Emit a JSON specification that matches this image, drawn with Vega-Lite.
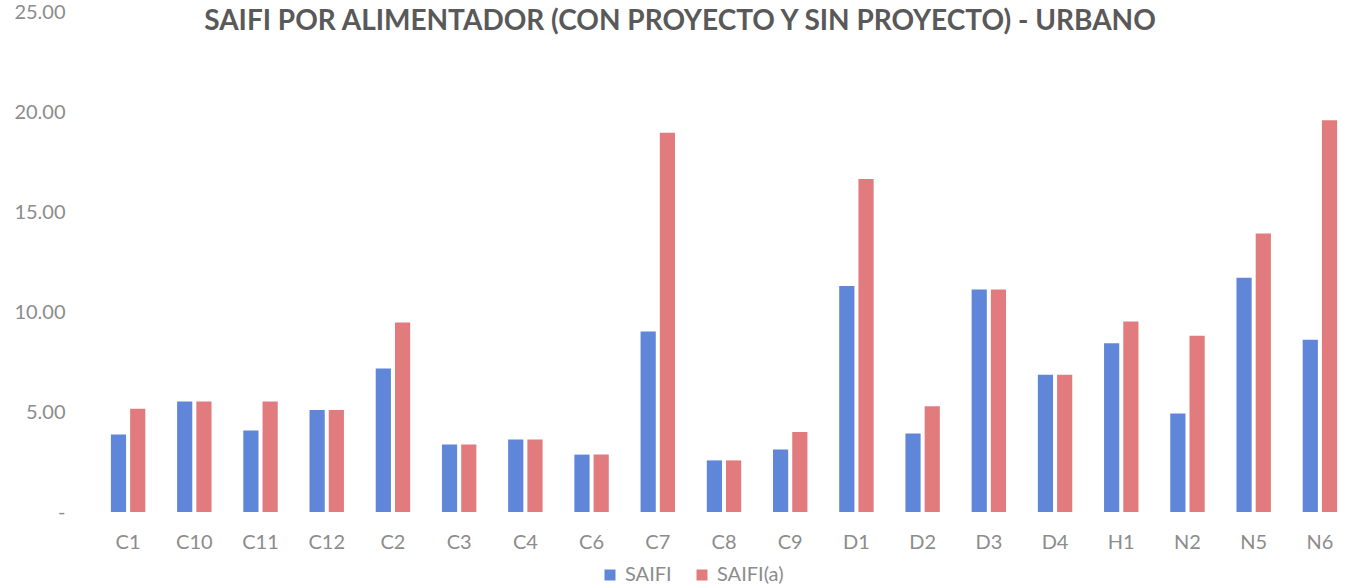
{
  "$schema": "https://vega.github.io/schema/vega-lite/v6.json",
  "width": 1258,
  "height": 500,
  "autosize": {"type": "none"},
  "padding": {"top": 12, "left": 95, "right": 0, "bottom": 75},
  "background": "white",
  "title": {
    "text": "SAIFI POR ALIMENTADOR (CON PROYECTO Y SIN PROYECTO) - URBANO",
    "font": "Lato",
    "fontSize": 28,
    "fontWeight": "bold",
    "color": "#595959",
    "anchor": "middle",
    "baseline": "alphabetic",
    "offset": 0,
    "dy": 56,
    "dx": -44
  },
  "config": {
    "view": {"stroke": null},
    "font": "Lato"
  },
  "data": {
    "values": [
      {"alimentador": "C1", "serie": "SAIFI", "valor": 3.88},
      {"alimentador": "C1", "serie": "SAIFI(a)", "valor": 5.16},
      {"alimentador": "C10", "serie": "SAIFI", "valor": 5.53},
      {"alimentador": "C10", "serie": "SAIFI(a)", "valor": 5.53},
      {"alimentador": "C11", "serie": "SAIFI", "valor": 4.08},
      {"alimentador": "C11", "serie": "SAIFI(a)", "valor": 5.53},
      {"alimentador": "C12", "serie": "SAIFI", "valor": 5.1},
      {"alimentador": "C12", "serie": "SAIFI(a)", "valor": 5.1},
      {"alimentador": "C2", "serie": "SAIFI", "valor": 7.17},
      {"alimentador": "C2", "serie": "SAIFI(a)", "valor": 9.47},
      {"alimentador": "C3", "serie": "SAIFI", "valor": 3.37},
      {"alimentador": "C3", "serie": "SAIFI(a)", "valor": 3.37},
      {"alimentador": "C4", "serie": "SAIFI", "valor": 3.63},
      {"alimentador": "C4", "serie": "SAIFI(a)", "valor": 3.63},
      {"alimentador": "C6", "serie": "SAIFI", "valor": 2.87},
      {"alimentador": "C6", "serie": "SAIFI(a)", "valor": 2.87},
      {"alimentador": "C7", "serie": "SAIFI", "valor": 9.03},
      {"alimentador": "C7", "serie": "SAIFI(a)", "valor": 18.96},
      {"alimentador": "C8", "serie": "SAIFI", "valor": 2.58},
      {"alimentador": "C8", "serie": "SAIFI(a)", "valor": 2.58},
      {"alimentador": "C9", "serie": "SAIFI", "valor": 3.13},
      {"alimentador": "C9", "serie": "SAIFI(a)", "valor": 4.0},
      {"alimentador": "D1", "serie": "SAIFI", "valor": 11.3},
      {"alimentador": "D1", "serie": "SAIFI(a)", "valor": 16.65},
      {"alimentador": "D2", "serie": "SAIFI", "valor": 3.93},
      {"alimentador": "D2", "serie": "SAIFI(a)", "valor": 5.29},
      {"alimentador": "D3", "serie": "SAIFI", "valor": 11.13},
      {"alimentador": "D3", "serie": "SAIFI(a)", "valor": 11.13},
      {"alimentador": "D4", "serie": "SAIFI", "valor": 6.86},
      {"alimentador": "D4", "serie": "SAIFI(a)", "valor": 6.86},
      {"alimentador": "H1", "serie": "SAIFI", "valor": 8.44},
      {"alimentador": "H1", "serie": "SAIFI(a)", "valor": 9.53},
      {"alimentador": "N2", "serie": "SAIFI", "valor": 4.93},
      {"alimentador": "N2", "serie": "SAIFI(a)", "valor": 8.81},
      {"alimentador": "N5", "serie": "SAIFI", "valor": 11.71},
      {"alimentador": "N5", "serie": "SAIFI(a)", "valor": 13.93},
      {"alimentador": "N6", "serie": "SAIFI", "valor": 8.61},
      {"alimentador": "N6", "serie": "SAIFI(a)", "valor": 19.59}
    ]
  },
  "mark": {"type": "bar"},
  "encoding": {
    "x": {
      "field": "alimentador",
      "type": "nominal",
      "sort": null,
      "scale": {"paddingInner": 0.48, "paddingOuter": 0.24},
      "axis": {
        "title": null,
        "labelAngle": 0,
        "domain": false,
        "ticks": false,
        "labelPadding": 20,
        "labelFontSize": 20,
        "labelColor": "#8c8c8c",
        "labelFont": "Lato"
      }
    },
    "xOffset": {
      "field": "serie",
      "type": "nominal",
      "scale": {"paddingInner": 0.21, "paddingOuter": 0}
    },
    "y": {
      "field": "valor",
      "type": "quantitative",
      "scale": {"domain": [0, 25], "nice": false},
      "axis": {
        "title": null,
        "values": [0, 5, 10, 15, 20, 25],
        "labelExpr": "datum.value == 0 ? '-' : format(datum.value, '.2f')",
        "grid": false,
        "domain": false,
        "ticks": false,
        "labelPadding": 30,
        "labelFontSize": 20,
        "labelColor": "#8c8c8c",
        "labelFont": "Lato"
      }
    },
    "color": {
      "field": "serie",
      "type": "nominal",
      "scale": {"domain": ["SAIFI", "SAIFI(a)"], "range": ["#5f86d9", "#e27b7d"]},
      "legend": {
        "title": null,
        "orient": "none",
        "direction": "horizontal",
        "legendX": 505,
        "legendY": 553,
        "symbolType": "square",
        "symbolSize": 121,
        "symbolStrokeWidth": 0,
        "labelFontSize": 20,
        "labelColor": "#8c8c8c",
        "labelFont": "Lato",
        "labelOffset": 5,
        "columnPadding": 20
      }
    }
  }
}
